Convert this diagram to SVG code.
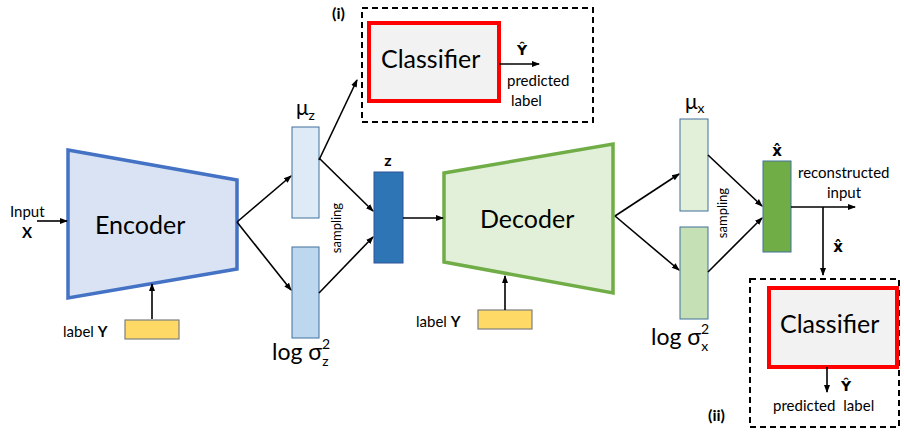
<svg xmlns="http://www.w3.org/2000/svg" width="904" height="432" viewBox="0 0 904 432">
<defs>
<marker id="ah" markerWidth="8" markerHeight="8" refX="7" refY="4" orient="auto" markerUnits="userSpaceOnUse">
<path d="M0,1 L8,4 L0,7 Z" fill="#000"/>
</marker>
<style>
.t{font-family:Lato,"Open Sans","Liberation Sans",sans-serif;fill:#000}
.h{font-family:"DejaVu Sans",sans-serif;font-weight:bold;fill:#000;text-anchor:middle}
.big{font-size:25px}
.sm{font-size:15px}
.b{font-weight:bold}
.ln{stroke:#000;stroke-width:1.6;fill:none;marker-end:url(#ah)}
.dash{fill:none;stroke:#000;stroke-width:2;stroke-dasharray:6,4}
.cls{fill:#F2F2F2;stroke:#FF0000;stroke-width:4}
.lab{fill:#FFD966;stroke:#7F7F7F;stroke-width:1.2}
.bar{stroke:#41719C;stroke-width:1}
</style>
</defs>
<rect width="904" height="432" fill="#fff"/>

<g id="encoder">
<polygon points="68,150 237,180 237,269 68,298" fill="#DAE3F3" stroke="#4472C4" stroke-width="3.5"/>
<text class="t big" x="95" y="234">Encoder</text>
</g>
<g id="input">
<text class="t sm" x="10" y="217">Input</text>
<text class="t sm b" x="22" y="238" font-size="16">X</text>
</g>
<g id="labelY1">
<rect class="lab" x="125" y="320" width="54" height="19"/>
<text class="t sm" x="63" y="337">label <tspan class="b">Y</tspan></text>
</g>
<g id="mu_z">
<rect class="bar" x="292" y="127" width="27" height="91" fill="#DEEBF7"/>
<text class="t" x="296" y="115" font-size="21">μ<tspan font-size="14" dy="5">z</tspan></text>
</g>
<g id="logsigma_z">
<rect class="bar" x="292" y="247" width="27" height="91" fill="#BDD7EE"/>
<text class="t" x="272" y="360" font-size="23">log σ<tspan font-size="14" dy="-11">2</tspan><tspan font-size="14" dx="-8" dy="17">z</tspan></text>
</g>
<g id="sampling1">
<text class="t" font-size="13" transform="translate(341,228) rotate(-90)" text-anchor="middle">sampling</text>
</g>
<g id="z">
<rect x="374" y="172" width="29" height="91" fill="#2E75B6" stroke="#2F5597" stroke-width="1"/>
<text class="t b" x="388" y="166" font-size="16" text-anchor="middle">z</text>
</g>
<g id="classifier1">
<rect class="dash" x="362" y="8" width="231" height="114"/>
<text class="t b" x="332" y="19" font-size="16">(i)</text>
<rect class="cls" x="369" y="23" width="130" height="78"/>
<text class="t big" x="381" y="68">Classifier</text>
<text class="h" x="522" y="55" font-size="14">Ŷ</text>
<text class="t sm" x="507" y="86">predicted</text>
<text class="t sm" x="511" y="106">label</text>
</g>
<g id="decoder">
<polygon points="444,173 613,144 613,293 444,262" fill="#E2F0D9" stroke="#70AD47" stroke-width="3.5"/>
<text class="t big" x="480" y="228">Decoder</text>
</g>
<g id="labelY2">
<rect class="lab" x="478" y="310" width="54" height="19"/>
<text class="t sm" x="416" y="327">label <tspan class="b">Y</tspan></text>
</g>
<g id="mu_x">
<rect class="bar" x="680" y="119" width="28" height="92" fill="#E2F0D9"/>
<text class="t" x="685" y="109" font-size="21">μ<tspan font-size="14" dy="4">x</tspan></text>
</g>
<g id="logsigma_x">
<rect class="bar" x="680" y="227" width="28" height="92" fill="#C5E0B4"/>
<text class="t" x="651" y="345" font-size="23">log σ<tspan font-size="14" dy="-11">2</tspan><tspan font-size="14" dx="-8" dy="17">x</tspan></text>
</g>
<g id="sampling2">
<text class="t" font-size="13" transform="translate(727,213) rotate(-90)" text-anchor="middle">sampling</text>
</g>
<g id="xhat">
<rect x="763" y="161" width="28" height="91" fill="#70AD47" stroke="#41719C" stroke-width="1"/>
<text class="h" x="777" y="156" font-size="15">x̂</text>
<text class="t sm" x="798" y="178">reconstructed</text>
<text class="t sm" x="844" y="198" text-anchor="middle">input</text>
<text class="h" x="838" y="252" font-size="15">x̂</text>
</g>
<g id="classifier2">
<rect class="dash" x="750" y="279" width="149" height="148"/>
<text class="t b" x="708" y="421" font-size="16">(ii)</text>
<rect class="cls" x="769" y="288" width="128" height="79"/>
<text class="t big" x="780" y="333">Classifier</text>
<text class="h" x="846" y="391" font-size="14">Ŷ</text>
<text class="t sm" x="773" y="411">predicted<tspan dx="8">label</tspan></text>
</g>

<g id="connectors">
<line class="ln" x1="37" y1="221" x2="67" y2="221"/>
<line class="ln" x1="152" y1="319" x2="152" y2="284"/>
<line class="ln" x1="237" y1="222" x2="291" y2="176"/>
<line class="ln" x1="237" y1="222" x2="291" y2="290"/>
<line class="ln" x1="319" y1="160" x2="357" y2="80"/>
<line class="ln" x1="319" y1="158" x2="373" y2="211"/>
<line class="ln" x1="319" y1="293" x2="373" y2="237"/>
<line class="ln" x1="403" y1="218" x2="443" y2="218"/>
<line class="ln" x1="499" y1="64" x2="539" y2="64"/>
<line class="ln" x1="505" y1="310" x2="505" y2="276"/>
<line class="ln" x1="615" y1="216" x2="679" y2="174"/>
<line class="ln" x1="615" y1="216" x2="679" y2="270"/>
<line class="ln" x1="708" y1="155" x2="762" y2="206"/>
<line class="ln" x1="708" y1="272" x2="762" y2="218"/>
<line class="ln" x1="791" y1="207" x2="855" y2="207"/>
<line class="ln" x1="823" y1="207" x2="823" y2="275"/>
<line class="ln" x1="827" y1="367" x2="827" y2="392"/>
</g>
</svg>
